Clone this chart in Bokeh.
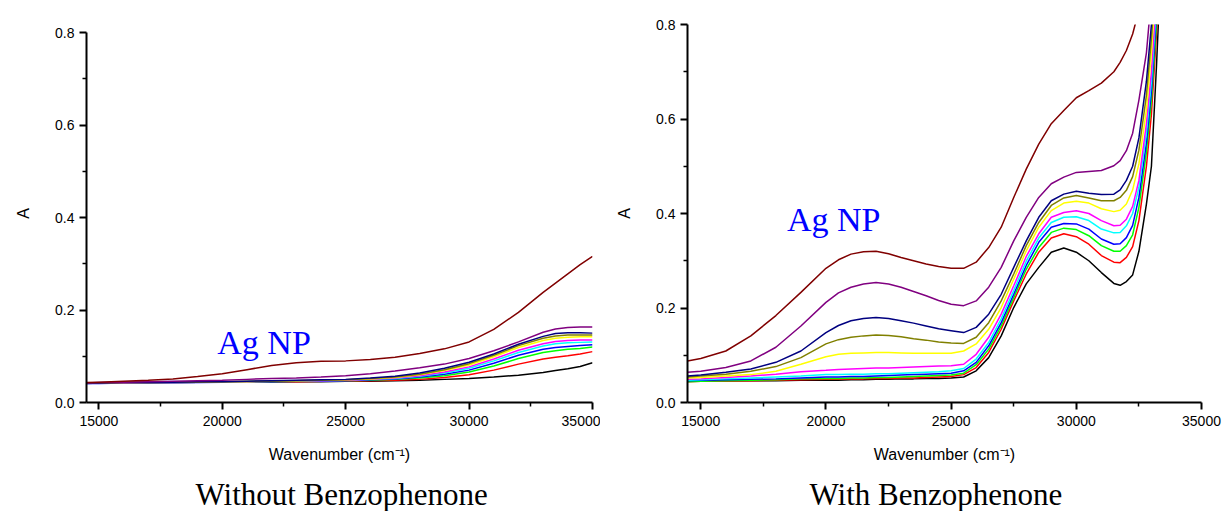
from bokeh.plotting import figure
from bokeh.layouts import row
from bokeh.models import FixedTicker, PrintfTickFormatter, Label, Range1d, Title
from bokeh.embed import file_html
from bokeh.resources import INLINE

# ---------------- data ----------------
SERIES = ["black", "red", "green", "blue", "cyan", "magenta", "yellow", "olive", "navy", "purple", "wine"]

X_TICKS = [15000, 20000, 25000, 30000, 35000]
X_MINOR = [17500, 22500, 27500, 32500]
Y_TICKS = [0.0, 0.2, 0.4, 0.6, 0.8]
Y_MINOR = [0.1, 0.3, 0.5, 0.7]

# Without Benzophenone
WN_LEFT = [14500, 15000, 16000, 17000, 18000, 19000, 20000, 21000, 22000, 23000, 24000, 25000,
           26000, 27000, 28000, 29000, 30000, 31000, 32000, 33000, 33500, 34000, 34500, 35000]
L_BLACK = [.042, .042, .042, .043, .043, .044, .044, .044, .045, .045, .045, .046, .046, .047, .048, .050, .052, .055, .059, .065, .069, .073, .078, .086]
L_RED = [.042, .042, .043, .043, .043, .044, .044, .045, .045, .045, .046, .046, .047, .048, .050, .054, .060, .070, .083, .094, .098, .101, .105, .110]
L_GREEN = [.041, .042, .042, .043, .043, .044, .044, .045, .045, .046, .046, .047, .048, .050, .053, .058, .066, .079, .095, .108, .112, .115, .117, .120]
L_BLUE = [.041, .041, .042, .042, .043, .043, .044, .045, .045, .046, .046, .047, .049, .051, .055, .061, .070, .085, .102, .115, .119, .121, .123, .125]
L_CYAN = [.041, .042, .042, .043, .043, .044, .044, .045, .046, .046, .047, .048, .050, .052, .057, .064, .074, .090, .108, .122, .127, .129, .130, .131]
L_MAGENTA = [.041, .042, .042, .043, .043, .044, .045, .045, .046, .047, .047, .048, .050, .053, .058, .066, .077, .094, .113, .127, .132, .134, .135, .135]
L_YELLOW = [.042, .042, .043, .043, .044, .044, .045, .045, .046, .047, .048, .049, .051, .054, .060, .069, .081, .099, .119, .134, .139, .141, .142, .142]
L_OLIVE = [.042, .042, .043, .043, .044, .044, .045, .046, .046, .047, .048, .049, .052, .055, .061, .071, .084, .102, .123, .139, .144, .146, .146, .146]
L_NAVY = [.042, .042, .043, .043, .044, .045, .045, .046, .047, .048, .049, .050, .053, .057, .064, .074, .087, .105, .126, .143, .149, .151, .151, .150]
L_PURPLE = [.042, .043, .044, .045, .046, .047, .048, .050, .052, .053, .055, .058, .062, .068, .075, .083, .095, .112, .131, .152, .159, .162, .163, .163]
L_WINE = [.043, .044, .046, .048, .051, .056, .062, .071, .080, .086, .089, .090, .093, .098, .106, .116, .131, .158, .195, .238, .258, .278, .298, .316]

# With Benzophenone
WN_RIGHT = [14470, 15000, 16000, 17000, 18000, 19000, 20000, 20500, 21000, 21500, 22000, 22500,
            23000, 23500, 24000, 24500, 25000, 25500, 26000, 26500, 27000, 27500, 28000, 28500,
            29000, 29500, 30000, 30500, 31000, 31500, 31750, 32000, 32250, 32500, 32800, 33000,
            33200, 33400]
R_BLACK = [.046, .046, .046, .046, .046, .047, .047, .047, .048, .048, .049, .049, .050, .050, .051, .051, .052, .054, .067, .095, .141, .201, .251, .286, .318, .327, .318, .300, .275, .252, .248, .256, .270, .320, .420, .500, .710, .950]
R_RED = [.044, .045, .045, .046, .047, .048, .049, .049, .050, .050, .051, .051, .052, .052, .053, .054, .055, .059, .074, .106, .155, .215, .272, .318, .348, .357, .351, .335, .311, .297, .296, .307, .330, .385, .500, .610, .780, .960]
R_GREEN = [.044, .045, .046, .047, .048, .050, .051, .051, .052, .052, .053, .053, .054, .055, .056, .057, .058, .062, .080, .113, .162, .222, .282, .328, .360, .369, .366, .353, .332, .320, .320, .332, .355, .413, .530, .640, .800, .980]
R_BLUE = [.046, .047, .048, .049, .050, .052, .054, .054, .055, .055, .056, .057, .058, .059, .060, .061, .062, .067, .085, .120, .169, .229, .290, .339, .371, .379, .378, .367, .346, .335, .336, .349, .375, .434, .550, .660, .820, 1.00]
R_CYAN = [.047, .048, .050, .052, .054, .056, .059, .059, .060, .060, .061, .061, .062, .063, .064, .065, .067, .072, .092, .127, .177, .237, .299, .348, .381, .392, .393, .385, .367, .359, .360, .374, .400, .455, .570, .680, .840, 1.00]
R_MAGENTA = [.049, .050, .053, .056, .060, .065, .068, .070, .071, .072, .073, .073, .074, .075, .076, .077, .078, .081, .102, .138, .187, .247, .309, .357, .392, .402, .406, .400, .385, .374, .375, .388, .415, .470, .590, .700, .860, 1.03]
R_YELLOW = [.052, .053, .056, .059, .066, .081, .097, .102, .104, .105, .106, .106, .105, .104, .104, .104, .104, .109, .124, .155, .201, .261, .321, .371, .406, .422, .426, .422, .410, .404, .407, .420, .450, .505, .620, .740, .900, 1.05]
R_OLIVE = [.054, .056, .060, .066, .076, .095, .124, .133, .138, .141, .143, .142, .139, .135, .132, .128, .126, .125, .138, .169, .215, .272, .332, .381, .417, .433, .438, .433, .427, .427, .434, .449, .478, .534, .650, .770, .920, 1.08]
R_NAVY = [.056, .058, .064, .071, .085, .109, .148, .163, .173, .178, .180, .178, .173, .168, .162, .156, .152, .148, .159, .187, .229, .286, .342, .392, .427, .441, .447, .443, .440, .441, .450, .470, .500, .560, .680, .800, .950, 1.10]
R_PURPLE = [.064, .066, .074, .088, .117, .162, .212, .232, .244, .251, .254, .251, .244, .235, .226, .216, .208, .205, .215, .244, .286, .342, .392, .434, .463, .477, .487, .489, .491, .501, .512, .533, .570, .640, .740, .860, 1.00, 1.10]
R_WINE = [.088, .093, .109, .141, .184, .233, .284, .302, .314, .319, .320, .315, .307, .300, .293, .288, .284, .284, .297, .328, .371, .434, .494, .547, .590, .618, .645, .660, .676, .700, .720, .745, .780, .830, .950, 1.05, 1.15, 1.25]

LEFT_DATA = [L_BLACK, L_RED, L_GREEN, L_BLUE, L_CYAN, L_MAGENTA, L_YELLOW, L_OLIVE, L_NAVY, L_PURPLE, L_WINE]
RIGHT_DATA = [R_BLACK, R_RED, R_GREEN, R_BLUE, R_CYAN, R_MAGENTA, R_YELLOW, R_OLIVE, R_NAVY, R_PURPLE, R_WINE]

# ---------------- styles ----------------
COLORS = ["#000000", "#ff0000", "#00ff00", "#0000ff", "#00ffff", "#ff00ff",
          "#ffff00", "#808000", "#000080", "#800080", "#800000"]
SANS = "Liberation Sans"
SERIF = "Liberation Serif"


def make_panel(wn, data, x_start, y_end, caption, ag_x, ag_y, fw, bl, br, cap_off):
    p = figure(frame_width=fw, frame_height=378,
               min_border_left=bl, min_border_right=br, min_border_top=24, min_border_bottom=109,
               x_range=Range1d(x_start, 35000), y_range=Range1d(0, y_end),
               output_backend="svg", toolbar_location=None)
    p.outline_line_color = None
    p.grid.visible = False
    p.background_fill_color = "white"
    p.border_fill_color = "white"

    for ys, c in zip(data, COLORS):
        p.line(wn, ys, line_color=c, line_width=1.5)

    p.xaxis.ticker = FixedTicker(ticks=X_TICKS, minor_ticks=X_MINOR)
    p.yaxis.ticker = FixedTicker(ticks=Y_TICKS, minor_ticks=Y_MINOR)
    p.xaxis.formatter = PrintfTickFormatter(format="%d")
    p.yaxis.formatter = PrintfTickFormatter(format="%.1f")
    p.yaxis.bounds = (0, 0.8)

    for ax in (p.xaxis[0], p.yaxis[0]):
        ax.axis_line_width = 2
        ax.axis_line_color = "black"
        ax.major_tick_line_width = 2
        ax.minor_tick_line_width = 1.5
        ax.major_tick_out = 7
        ax.major_tick_in = 0
        ax.minor_tick_out = 4
        ax.minor_tick_in = 0
        ax.major_label_text_font = SANS
        ax.major_label_text_font_size = "14px"
        ax.major_label_text_color = "black"
        ax.axis_label_text_font = SANS
        ax.axis_label_text_font_size = "16px"
        ax.axis_label_text_font_style = "normal"
        ax.axis_label_text_color = "black"

    p.xaxis.axis_label = "Wavenumber (cm\u207b\u00b9)"
    p.xaxis.major_label_standoff = 6
    p.xaxis.axis_label_standoff = 17
    p.yaxis.axis_label = "A"
    p.yaxis.major_label_standoff = 5
    p.yaxis.axis_label_standoff = 20

    p.add_layout(Label(x=ag_x, y=ag_y, text="Ag NP", text_font=SERIF, text_font_size="34px",
                       text_color="#0000ff", text_baseline="alphabetic", text_align="left"))
    p.add_layout(Title(text=caption, align="left", offset=cap_off, standoff=19,
                       text_font=SERIF, text_font_size="31px", text_font_style="normal",
                       text_color="black"), "below")
    return p


p1 = make_panel(WN_LEFT, LEFT_DATA, 14500, 0.8173, "Without Benzophenone", 19800, 0.130,
                506, 86, 8, 109)
p2 = make_panel(WN_RIGHT, RIGHT_DATA, 14470, 0.8, "With Benzophenone", 18440, 0.387,
                514, 87, 23, 122)

layout = row(p1, p2)
open("out.html", "w").write(file_html(layout, INLINE))
